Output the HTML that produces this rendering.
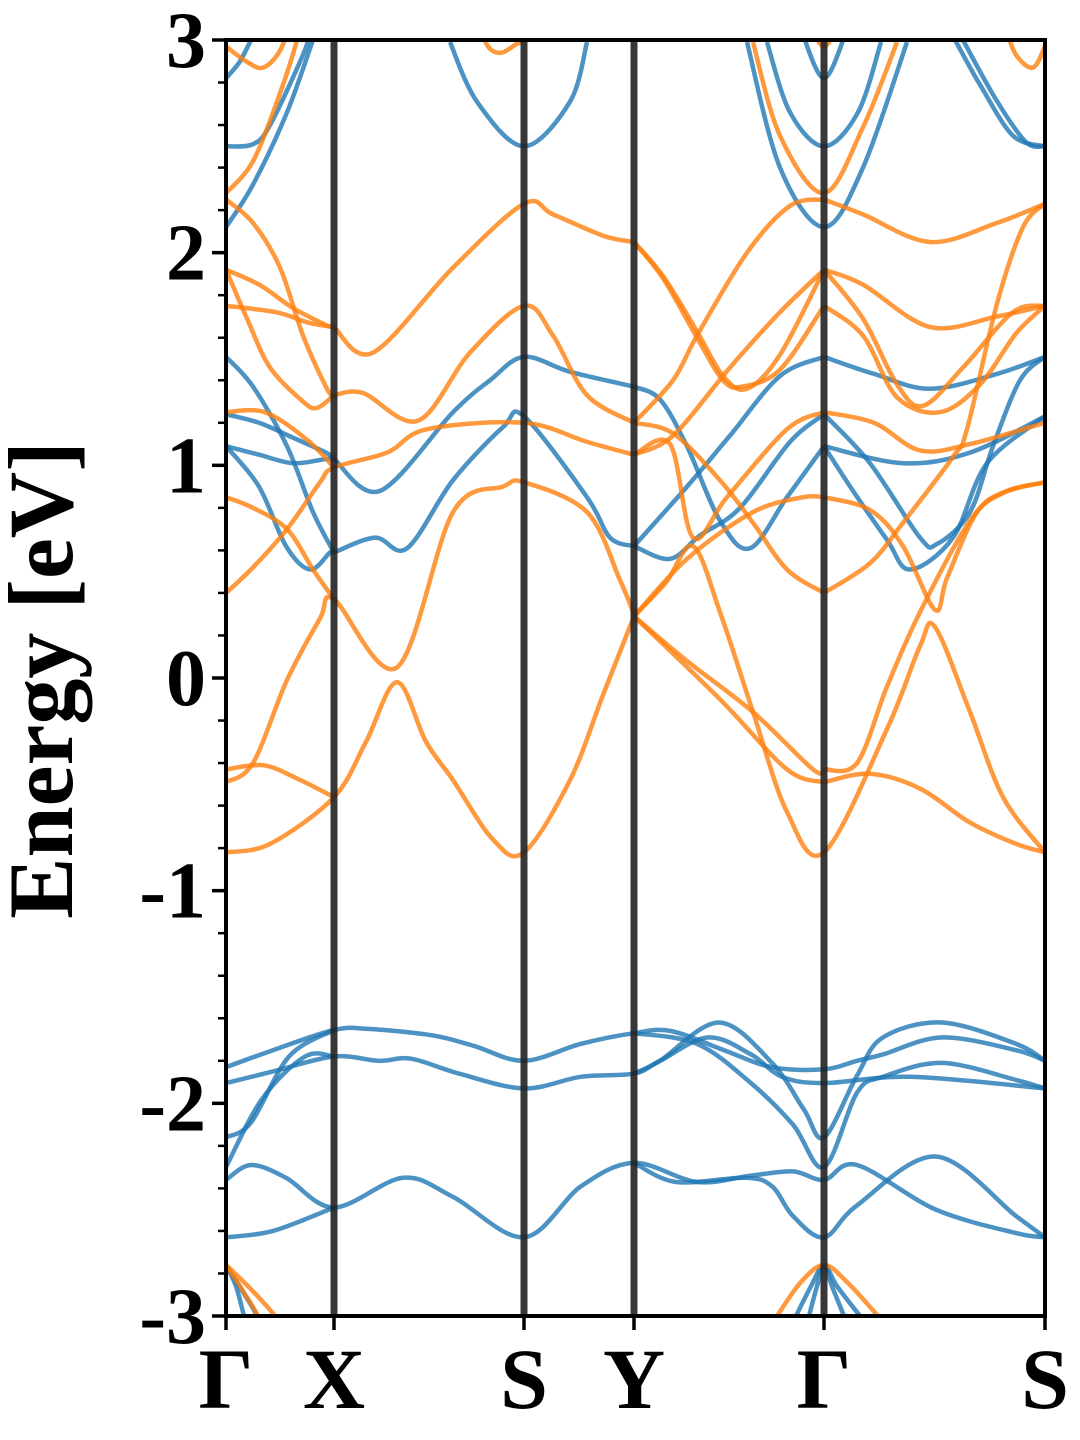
<!DOCTYPE html>
<html><head><meta charset="utf-8">
<style>
html,body{margin:0;padding:0;background:#fff;}
svg{display:block;}
text{font-family:"Liberation Serif",serif;font-weight:bold;fill:#000;}
</style></head>
<body>
<svg id="chart" width="1080" height="1440" viewBox="0 0 1080 1440" xmlns="http://www.w3.org/2000/svg">
<defs><clipPath id="plotclip"><rect x="226" y="40" width="819" height="1276"/></clipPath></defs>
<g id="bands" clip-path="url(#plotclip)"></g>
<g id="vlines"></g>
<rect x="226" y="40" width="819" height="1276" fill="none" stroke="#000" stroke-width="4"/>
<g id="yticks"></g>
<g id="xticks"></g>
<text x="72" y="680" font-size="92" text-anchor="middle" transform="rotate(-90 72 680)">Energy [eV]</text>
</svg>
<script>
// high-symmetry path (k positions along path)
const kLabels = ["Γ","X","S","Y","Γ","S"];
const kPositions = [0,108,298,408,598,819];
const yTickValues = [3,2,1,0,-1,-2,-3];
const yTickLabels = ["3","2","1","0","-1","-2","-3"];

// spin-up (orange) band curves: [k, E]
const orangeBands = [
 [[0,-0.82],[44,-0.78],[108,-0.56],[140,-0.3],[171,-0.02],[200,-0.3],[227,-0.48],[267,-0.76],[298,-0.82],[344,-0.48],[377,-0.08],[408,0.29]],
 [[0,-0.43],[37,-0.41],[70,-0.47],[108,-0.56]],
 [[0,-0.49],[27,-0.40],[61,-0.01],[94,0.28],[108,0.37],[171,0.05],[227,0.78],[277,0.90],[298,0.92],[361,0.78],[394,0.46],[408,0.30]],
 [[0,0.40],[27,0.52],[61,0.70],[94,0.92],[108,0.99],[161,1.06],[201,1.17],[298,1.20],[361,1.11],[408,1.05]],
 [[0,0.85],[27,0.80],[61,0.70],[87,0.51],[108,0.37]],
 [[0,1.25],[39,1.25],[81,1.12],[108,0.99]],
 [[0,1.92],[21,1.69],[44,1.46],[77,1.30],[91,1.27],[108,1.33]],
 [[0,1.92],[33,1.85],[67,1.74],[100,1.66],[108,1.65]],
 [[0,1.75],[50,1.72],[83,1.67],[108,1.65]],
 [[0,2.25],[27,2.14],[54,1.93],[77,1.61],[101,1.36],[108,1.33]],
 [[108,1.65],[147,1.53],[227,1.93],[298,2.23],[327,2.18],[377,2.08],[408,2.05]],
 [[108,1.33],[137,1.34],[192,1.21],[244,1.53],[298,1.75],[327,1.61],[361,1.33],[408,1.20]],
 [[0,2.28],[27,2.43],[54,2.75],[71,3.0],[80,3.2]],
 [[0,2.97],[20,2.9],[37,2.87],[54,2.95],[66,3.1]],
 [[250,3.1],[262,2.97],[275,2.94],[290,2.98],[298,3.0],[305,3.05]],
 [[408,0.29],[461,0.56],[527,0.78],[577,0.85],[598,0.85]],
 [[408,0.29],[461,0.08],[527,-0.16],[587,-0.43],[598,-0.43]],
 [[408,0.29],[494,-0.10],[561,-0.43],[598,-0.49]],
 [[408,1.20],[447,1.15],[494,0.93],[527,0.73],[561,0.51],[598,0.40]],
 [[408,1.05],[444,1.10],[467,0.66],[501,0.85],[561,1.17],[598,1.25]],
 [[408,1.20],[447,1.40],[471,1.61],[521,2.0],[564,2.22],[598,2.25]],
 [[408,2.05],[437,1.89],[471,1.63],[497,1.42],[521,1.36],[554,1.52],[598,1.92]],
 [[408,2.05],[437,1.88],[471,1.60],[497,1.40],[516,1.37],[554,1.45],[598,1.75]],
 [[408,1.05],[447,1.14],[504,1.46],[554,1.72],[598,1.92]],
 [[598,2.25],[637,2.18],[704,2.05],[771,2.14],[819,2.23]],
 [[598,1.92],[637,1.85],[704,1.65],[771,1.70],[819,1.75]],
 [[598,1.92],[637,1.69],[671,1.38],[697,1.28],[737,1.46],[787,1.72],[819,1.75]],
 [[598,1.75],[637,1.61],[671,1.32],[714,1.25],[754,1.38],[790,1.62],[819,1.75]],
 [[598,1.25],[648,1.20],[694,1.07],[744,1.10],[819,1.20]],
 [[598,0.40],[644,0.54],[677,0.73],[727,1.04],[741,1.17],[771,1.76],[797,2.12],[819,2.23]],
 [[598,0.85],[644,0.79],[677,0.62],[709,0.32],[721,0.47],[751,0.78],[781,0.88],[819,0.92]],
 [[598,-0.43],[631,-0.40],[661,-0.04],[694,0.31],[744,0.74],[777,0.87],[819,0.92]],
 [[598,-0.49],[644,-0.45],[694,-0.52],[744,-0.68],[790,-0.78],[819,-0.82]],
 [[408,0.29],[440,0.45],[467,0.62],[494,0.31],[527,-0.16],[561,-0.63],[598,-0.82],[661,-0.24],[694,0.15],[709,0.24],[744,-0.16],[777,-0.56],[819,-0.82]],
 [[527,2.99],[554,2.55],[598,2.28],[637,2.59],[671,2.99]],
 [[585,3.05],[598,2.97],[611,3.05]],
 [[780,3.05],[790,2.93],[807,2.87],[819,2.97]],
 [[0,-2.76],[22,-2.86],[49,-3.0],[60,-3.1]],
 [[0,-2.76],[14,-2.86],[32,-3.0],[40,-3.1]],
 [[551,-3.0],[575,-2.84],[598,-2.76],[621,-2.84],[652,-3.0]]
];

// spin-down (blue) band curves: [k, E]
const blueBands = [
 [[0,1.51],[27,1.37],[61,1.09],[87,0.78],[108,0.59]],
 [[0,1.24],[33,1.20],[67,1.13],[100,1.06],[108,1.03]],
 [[0,1.09],[33,1.05],[67,1.01],[100,1.03],[108,1.03]],
 [[0,1.09],[33,0.90],[60,0.62],[84,0.51],[104,0.59],[108,0.59]],
 [[108,1.03],[154,0.88],[227,1.25],[264,1.40],[298,1.51],[344,1.44],[408,1.37]],
 [[108,0.59],[149,0.66],[181,0.61],[227,0.93],[277,1.18],[298,1.23],[361,0.85],[384,0.66],[408,0.62]],
 [[408,1.37],[434,1.31],[461,1.09],[494,0.74],[524,0.61],[561,0.85],[598,1.09]],
 [[408,0.62],[444,0.56],[474,0.67],[514,0.80],[564,1.11],[598,1.24]],
 [[408,0.62],[461,0.90],[504,1.14],[554,1.42],[598,1.51]],
 [[598,1.51],[648,1.43],[704,1.36],[771,1.43],[819,1.51]],
 [[598,1.24],[644,1.01],[694,0.66],[711,0.63],[744,0.78],[767,1.09],[794,1.40],[819,1.51]],
 [[598,1.09],[627,0.88],[661,0.65],[684,0.51],[727,0.66],[761,1.01],[819,1.23]],
 [[598,1.09],[677,1.01],[744,1.06],[819,1.23]],
 [[0,2.12],[27,2.32],[61,2.66],[87,3.0],[95,3.1]],
 [[0,2.5],[27,2.51],[44,2.6],[77,2.93],[85,3.05]],
 [[0,2.82],[14,2.9],[27,3.02]],
 [[224,2.99],[251,2.71],[298,2.50],[344,2.71],[361,2.99]],
 [[521,2.99],[554,2.40],[598,2.12],[637,2.40],[681,2.99]],
 [[541,2.99],[564,2.66],[598,2.50],[632,2.66],[655,2.99]],
 [[575,3.05],[598,2.82],[621,3.05]],
 [[729,3.0],[754,2.79],[787,2.55],[819,2.50]],
 [[737,3.0],[770,2.72],[800,2.52],[819,2.50]],
 [[0,-1.83],[47,-1.75],[108,-1.655],[142,-1.65],[206,-1.68],[248,-1.73],[298,-1.80],[355,-1.72],[408,-1.67],[445,-1.66],[498,-1.75],[546,-1.83],[598,-1.84],[631,-1.80],[657,-1.77],[716,-1.69],[790,-1.75],[819,-1.80]],
 [[0,-1.905],[47,-1.85],[108,-1.78],[153,-1.80],[185,-1.79],[233,-1.86],[298,-1.93],[355,-1.875],[408,-1.86],[434,-1.80],[482,-1.69],[525,-1.77],[556,-1.875],[598,-1.905],[684,-1.875],[819,-1.93]],
 [[0,-2.16],[25,-2.09],[63,-1.78],[108,-1.655]],
 [[0,-2.30],[36,-1.98],[79,-1.78],[108,-1.78]],
 [[408,-1.86],[434,-1.80],[493,-1.62],[546,-1.81],[578,-2.03],[598,-2.16],[631,-1.87],[657,-1.69],[716,-1.62],[790,-1.72],[819,-1.80]],
 [[408,-1.67],[471,-1.72],[525,-1.905],[567,-2.10],[598,-2.30],[631,-1.95],[657,-1.875],[716,-1.81],[790,-1.89],[819,-1.93]],
 [[0,-2.36],[25,-2.29],[60,-2.35],[108,-2.49],[177,-2.35],[227,-2.44],[298,-2.63],[355,-2.39],[408,-2.28],[471,-2.37],[525,-2.34],[567,-2.32],[598,-2.36],[631,-2.29],[710,-2.50],[790,-2.61],[819,-2.63]],
 [[0,-2.63],[47,-2.60],[108,-2.49]],
 [[408,-2.28],[450,-2.37],[519,-2.35],[546,-2.39],[567,-2.53],[598,-2.63],[631,-2.48],[710,-2.25],[790,-2.53],[819,-2.63]],
 [[0,-2.76],[10,-2.86],[18,-3.0],[24,-3.1]],
 [[0,-2.76],[16,-2.88],[31,-3.0],[36,-3.1]],
 [[570,-3.0],[585,-2.86],[598,-2.76],[611,-2.86],[634,-3.0]],
 [[583,-3.0],[591,-2.86],[598,-2.76],[606,-2.86],[618,-3.0]]
];

const NS="http://www.w3.org/2000/svg";
const X0=226, X1=1045, Y0=40, Y1=1316, EMIN=-3, EMAX=3;
const kMax = kPositions[kPositions.length-1];
function xScale(k){ return X0 + (k/kMax)*(X1-X0); }
function yScale(e){ return Y1 - (e-EMIN)/(EMAX-EMIN)*(Y1-Y0); }

function smoothPath(pts){
  const p = pts.map(d=>[xScale(d[0]), yScale(d[1])]);
  let s = "M"+p[0][0].toFixed(1)+","+p[0][1].toFixed(1);
  for(let i=0;i<p.length-1;i++){
    const a=p[i-1]||p[i], b=p[i], c=p[i+1], d=p[i+2]||c;
    const c1=[b[0]+(c[0]-a[0])/6, b[1]+(c[1]-a[1])/6];
    const c2=[c[0]-(d[0]-b[0])/6, c[1]-(d[1]-b[1])/6];
    s += " C"+c1[0].toFixed(1)+","+c1[1].toFixed(1)+" "+c2[0].toFixed(1)+","+c2[1].toFixed(1)+" "+c[0].toFixed(1)+","+c[1].toFixed(1);
  }
  return s;
}

const bandsG=document.getElementById("bands");
blueBands.forEach((b,i)=>{
  const el=document.createElementNS(NS,"path");
  el.setAttribute("d",smoothPath(b));
  el.setAttribute("fill","none");
  el.setAttribute("stroke","#1f77b4");
  el.setAttribute("stroke-opacity","0.8");
  el.setAttribute("stroke-width","4.5");
  
  
  bandsG.appendChild(el);
});
orangeBands.forEach((b,i)=>{
  const el=document.createElementNS(NS,"path");
  el.setAttribute("d",smoothPath(b));
  el.setAttribute("fill","none");
  el.setAttribute("stroke","#ff7f0e");
  el.setAttribute("stroke-opacity","0.8");
  el.setAttribute("stroke-width","4.5");
  
  
  bandsG.appendChild(el);
});

const vG=document.getElementById("vlines");
kPositions.slice(1,-1).forEach(k=>{
  const l=document.createElementNS(NS,"line");
  const x=xScale(k);
  l.setAttribute("x1",x);l.setAttribute("x2",x);
  l.setAttribute("y1",Y0);l.setAttribute("y2",Y1);
  l.setAttribute("stroke","#222");l.setAttribute("stroke-opacity","0.9");
  l.setAttribute("stroke-width","7");
  
  
  vG.appendChild(l);
});

const yG=document.getElementById("yticks");
for(let e=-3;e<=3.0001;e+=0.2){
  const isMajor=Math.abs(e-Math.round(e))<1e-6;
  const t=document.createElementNS(NS,"line");
  const y=yScale(e);
  t.setAttribute("x1",isMajor?212:218);t.setAttribute("x2",226);
  t.setAttribute("y1",y);t.setAttribute("y2",y);
  t.setAttribute("stroke","#000");t.setAttribute("stroke-width",isMajor?3.5:2.5);
  
  
  yG.appendChild(t);
}
yTickValues.forEach((v,i)=>{
  const tx=document.createElementNS(NS,"text");
  tx.setAttribute("x",206);tx.setAttribute("y",yScale(v)+27);
  tx.setAttribute("font-size","80");tx.setAttribute("text-anchor","end");
  tx.textContent=yTickLabels[i];
  
  
  yG.appendChild(tx);
});

const xG=document.getElementById("xticks");
kPositions.forEach((k,i)=>{
  const x=xScale(k);
  const t=document.createElementNS(NS,"line");
  t.setAttribute("x1",x);t.setAttribute("x2",x);t.setAttribute("y1",1316);t.setAttribute("y2",1330);
  t.setAttribute("stroke","#000");t.setAttribute("stroke-width","3.5");
  
  
  xG.appendChild(t);
  const tx=document.createElementNS(NS,"text");
  tx.setAttribute("x",x);tx.setAttribute("y",1408);
  tx.setAttribute("font-size","86");tx.setAttribute("text-anchor","middle");
  tx.textContent=kLabels[i];
  
  
  xG.appendChild(tx);
});
</script>
</body></html>
